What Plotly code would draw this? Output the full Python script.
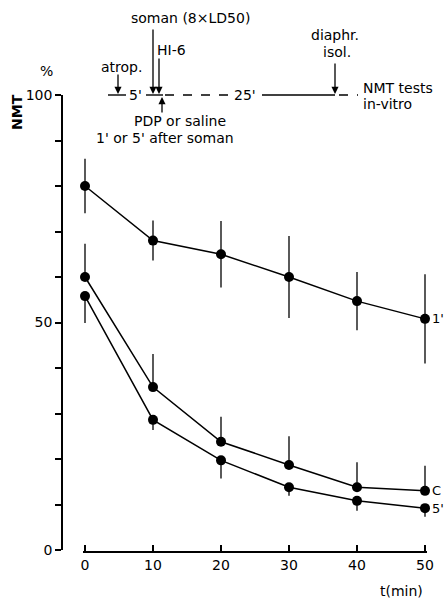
import plotly.graph_objects as go

# ---- data ----
t_min = [0, 10, 20, 30, 40, 50]
x_ticks = [0, 10, 20, 30, 40, 50]
y_ticks = [0, 10, 20, 30, 40, 50, 60, 70, 80, 90, 100]
y_ticklabels = ["0", "", "", "", "", "50", "", "", "", "", "100"]

nmt_1min = [80, 68, 65, 60, 54.7, 50.8]
err_1min = [6, 4.4, 7.3, 9, 6.4, 9.8]

nmt_control = [60, 35.8, 23.8, 18.7, 13.8, 13]
err_control_up = [7.3, 7.3, 5.5, 6.3, 5.5, 5.5]

nmt_5min = [55.8, 28.6, 19.7, 13.8, 10.8, 9.2]
err_5min_down = [5.9, 2.2, 4, 1.9, 2.2, 1.9]

series_labels = ["1'", "C", "5'"]

W, H = 446, 600
FONT = "DejaVu Sans"
FS = 14


def fx(px):
    return px / W


def fy(py):
    return 1 - py / H


zeros = [0] * len(t_min)
fig = go.Figure()

line_style = dict(color="black", width=1.5)
marker_style = dict(color="black", size=10)

fig.add_trace(go.Scatter(
    x=t_min, y=nmt_1min, mode="lines+markers", line=line_style, marker=marker_style,
    error_y=dict(type="data", array=err_1min, color="black", thickness=1.3, width=0),
    cliponaxis=False))
fig.add_trace(go.Scatter(
    x=t_min, y=nmt_control, mode="lines+markers", line=line_style, marker=marker_style,
    error_y=dict(type="data", symmetric=False, array=err_control_up, arrayminus=zeros,
                 color="black", thickness=1.3, width=0),
    cliponaxis=False))
fig.add_trace(go.Scatter(
    x=t_min, y=nmt_5min, mode="lines+markers", line=line_style, marker=marker_style,
    error_y=dict(type="data", symmetric=False, array=zeros, arrayminus=err_5min_down,
                 color="black", thickness=1.3, width=0),
    cliponaxis=False))

# series end labels
for lab, ys in zip(series_labels, [nmt_1min, nmt_control, nmt_5min]):
    fig.add_annotation(x=t_min[-1], y=ys[-1], xref="x", yref="y", text=lab,
                       showarrow=False, xanchor="left", yanchor="middle", xshift=5,
                       font=dict(family=FONT, size=13, color="black"))

px_per_min = 6.8
x0_px, pad = 85, 0.3
fig.update_layout(
    template="none",
    width=W, height=H,
    margin=dict(l=0, r=0, t=0, b=0, pad=0, autoexpand=False),
    paper_bgcolor="white", plot_bgcolor="white",
    showlegend=False,
    font=dict(family=FONT, size=FS, color="black"),
    xaxis=dict(
        range=[-pad, 50 + pad],
        domain=[fx(x0_px - pad * px_per_min), fx(x0_px + (50 + pad) * px_per_min)],
        anchor="free", position=fy(552), automargin=False,
        showline=True, linecolor="black", linewidth=1.5,
        ticks="inside", ticklen=6, tickwidth=1.5, tickcolor="black",
        tickvals=x_ticks, showgrid=False, zeroline=False,
        tickfont=dict(family=FONT, size=FS, color="black"),
    ),
    yaxis=dict(
        range=[0, 100],
        domain=[fy(550), fy(95)],
        anchor="free", position=fx(62), automargin=False,
        showline=True, linecolor="black", linewidth=1.5,
        ticks="outside", ticklen=6, tickwidth=1.5, tickcolor="black",
        tickvals=y_ticks, ticktext=y_ticklabels,
        showgrid=False, zeroline=False,
        tickfont=dict(family=FONT, size=FS, color="black"),
    ),
)


def txt(s, x, y, anchor="center", **kw):
    fig.add_annotation(x=fx(x), y=fy(y), xref="paper", yref="paper", text=s,
                       showarrow=False, xanchor=anchor, yanchor="middle",
                       font=dict(family=FONT, size=FS, color="black"), **kw)


# axis titles
txt("<b>NMT</b>", 17, 112, textangle=-90)
txt("%", 46, 71)
txt("t(min)", 401, 591)

# ---- experimental schedule schematic ----
def seg(x1, x2, y, dash="solid"):
    fig.add_shape(type="line", xref="paper", yref="paper",
                  x0=fx(x1), x1=fx(x2), y0=fy(y), y1=fy(y),
                  line=dict(color="black", width=1.4, dash=dash))


seg(108, 126, 95)
seg(146, 163, 95)
seg(165, 229, 95, dash="dash")
seg(262, 335, 95)
seg(339, 358, 95, dash="dash")

txt("5'", 135, 95)
txt("25'", 245, 95)
txt("atrop.", 121, 67)
txt("soman (8×LD50)", 190, 18)
txt("HI-6", 155, 50, "left")
txt("diaphr.", 335, 35)
txt("isol.", 337, 52)
txt("NMT tests", 361, 88, "left")
txt("in-vitro", 361, 104, "left")
txt("PDP or saline", 132, 121, "left")
txt("1' or 5' after soman", 94, 138, "left")


def arrow(x, y_tip, y_tail):
    fig.add_annotation(x=fx(x), y=fy(y_tip), xref="paper", yref="paper", text="",
                       showarrow=True, ax=0, ay=y_tail - y_tip, axref="pixel", ayref="pixel",
                       arrowhead=2, arrowsize=1.1, arrowwidth=1.3, arrowcolor="black")


arrow(118, 94, 73)
arrow(153, 94, 28)
arrow(159, 94, 57)
arrow(162, 97, 114)
arrow(335, 94, 62)

fig.write_html("out.html")
